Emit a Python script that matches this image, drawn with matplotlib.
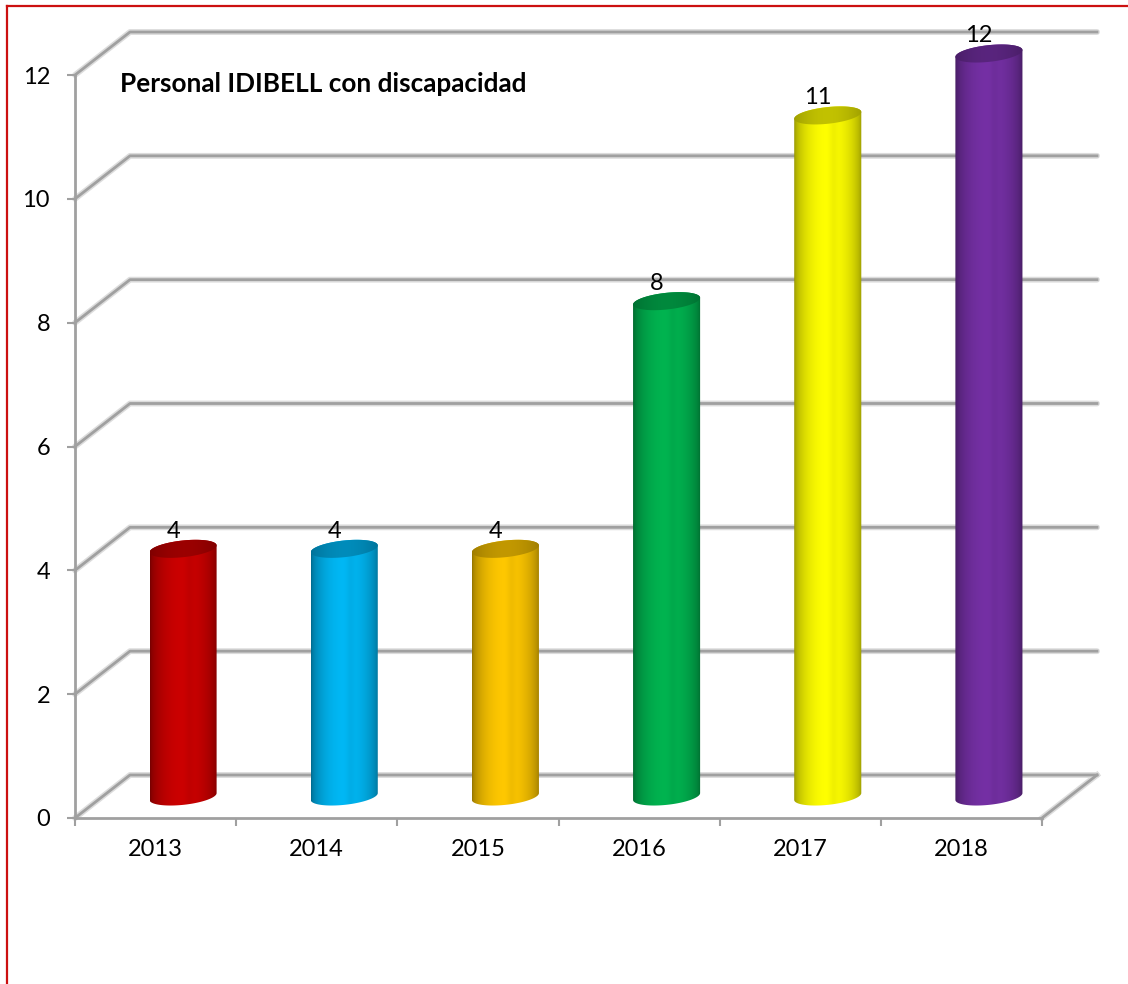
import numpy as np
import matplotlib
matplotlib.use("Agg")
import matplotlib.pyplot as plt
from matplotlib.patches import Polygon
from matplotlib.lines import Line2D
from matplotlib.colors import to_rgb

# ---- data ----
years = ["2013", "2014", "2015", "2016", "2017", "2018"]
values = [4, 4, 4, 8, 11, 12]
colors = ["#CC0000", "#00B8F5", "#FFC800", "#00B450", "#FFFF00", "#7530A5"]
yticks = [0, 2, 4, 6, 8, 10, 12]
title = "Personal IDIBELL con discapacidad"

plt.rcParams['font.family'] = ['Lato', 'DejaVu Sans']

W, H = 1128, 984
fig = plt.figure(figsize=(W / 100, H / 100), dpi=100)
fig.patch.set_facecolor("white")

# front plane of axes in pixels
L, R, B, T = 75, 1042, 818, 75
ax = fig.add_axes([L / W, 1 - B / H, (R - L) / W, (B - T) / H])
ax.set_facecolor("none")

n = len(years)
xmin, xmax = -0.5, n - 0.5
ymin, ymax = 0, 12
DX = 55 / ((R - L) / n)          # depth offset in category units
DY = 43 / ((B - T) / 12.0)       # depth offset in value units

gridc = "#a0a0a0"
# gridlines (perspective)
for v in yticks:
    xs = [xmin, xmin + DX, xmax + DX]
    ys = [v, v + DY, v + DY]
    ax.plot(xs, ys, color="#dcdcdc", lw=4.2, clip_on=False, zorder=0.5,
            solid_capstyle="round")
    ax.plot(xs, ys, color=gridc, lw=2.0, clip_on=False, zorder=1)
# floor right side
ax.plot([xmax, xmax + DX], [0, DY], color="#dcdcdc", lw=4.2, clip_on=False, zorder=0.5)
ax.plot([xmax, xmax + DX], [0, DY], color=gridc, lw=2.0, clip_on=False, zorder=1)

# cylinders
rx = 0.208
ry = 0.135
tilt = 0.055

def ell(cx, cy, t):
    return cx + rx * np.cos(t), cy + ry * np.sin(t) + tilt * np.cos(t)

N = 200
u = np.linspace(0, 1, N)
shade_body = 0.55 + 0.45 * np.sin(np.pi * u) ** 0.5
shade_body = shade_body - 0.05 * np.exp(-((u - 0.58) / 0.06) ** 2)
shade_top = 0.62 + 0.14 * np.sin(np.pi * u) ** 0.8

for i, (v, c) in enumerate(zip(values, colors)):
    base = np.array(to_rgb(c))
    cx = i + DX / 2
    y0 = DY / 2
    y1 = v + DY / 2
    tb = np.linspace(np.pi, 2 * np.pi, 80)
    bx, by = ell(cx, y0, tb)
    tt = np.linspace(0, np.pi, 80)
    tx, ty = ell(cx, y1, tt)
    body = np.column_stack([np.r_[bx, tx], np.r_[by, ty]])
    poly = Polygon(body, closed=True, facecolor="none", edgecolor="none",
                   transform=ax.transData, zorder=3)
    ax.add_patch(poly)
    img = (base[None, :] * shade_body[:, None])[None, :, :]
    im = ax.imshow(img, extent=[cx - rx, cx + rx, y0 - ry - tilt - 0.05, y1 + ry + tilt + 0.05],
                   aspect="auto", interpolation="bilinear", zorder=3, origin="lower")
    im.set_clip_path(poly)
    im.set_clip_box(fig.bbox)
    # top cap
    tc = np.linspace(0, 2 * np.pi, 160)
    cxs, cys = ell(cx, y1, tc)
    cap = Polygon(np.column_stack([cxs, cys]), closed=True, facecolor="none",
                  edgecolor="none", transform=ax.transData, zorder=4)
    ax.add_patch(cap)
    img2 = (base[None, :] * shade_top[:, None])[None, :, :]
    im2 = ax.imshow(img2, extent=[cx - rx, cx + rx, y1 - ry - tilt - 0.02, y1 + ry + tilt + 0.02],
                    aspect="auto", interpolation="bilinear", zorder=4, origin="lower")
    im2.set_clip_path(cap)
    im2.set_clip_box(fig.bbox)
    # value label
    ax.text(i + 0.11, v + 0.63, str(v), ha="center", va="center",
            fontsize=17, color="black", zorder=6, clip_on=False)

ax.set_xlim(xmin, xmax)
ax.set_ylim(ymin, ymax)

# axes styling
for s in ["top", "right"]:
    ax.spines[s].set_visible(False)
for s in ["left", "bottom"]:
    ax.spines[s].set_color(gridc)
    ax.spines[s].set_linewidth(2.0)
    ax.spines[s].set_zorder(2)

ax.set_yticks(yticks)
ax.set_yticklabels([str(t) for t in yticks])
ax.tick_params(axis="y", direction="out", length=6, width=1.5, color=gridc,
               pad=12, labelsize=17)
ax.set_xticks(range(n))
ax.set_xticklabels(years)
ax.tick_params(axis="x", which="major", length=0, pad=15, labelsize=17)
ax.set_xticks(np.arange(xmin, xmax + 0.01, 1.0), minor=True)
ax.tick_params(axis="x", which="minor", direction="out", length=6, width=1.5,
               color=gridc)

# title
fig.text(120 / W, 1 - 84 / H, title, ha="left", va="center", fontsize=18.8,
         fontweight="bold", color="black")

# red frame
fig.add_artist(Line2D([7 / W, 7 / W], [0, 1 - 6 / H], color="#CC1010", lw=1.6,
                      transform=fig.transFigure))
fig.add_artist(Line2D([7 / W, 1], [1 - 6 / H, 1 - 6 / H], color="#CC1010", lw=1.6,
                      transform=fig.transFigure))

fig.savefig("out.png", dpi=100)
